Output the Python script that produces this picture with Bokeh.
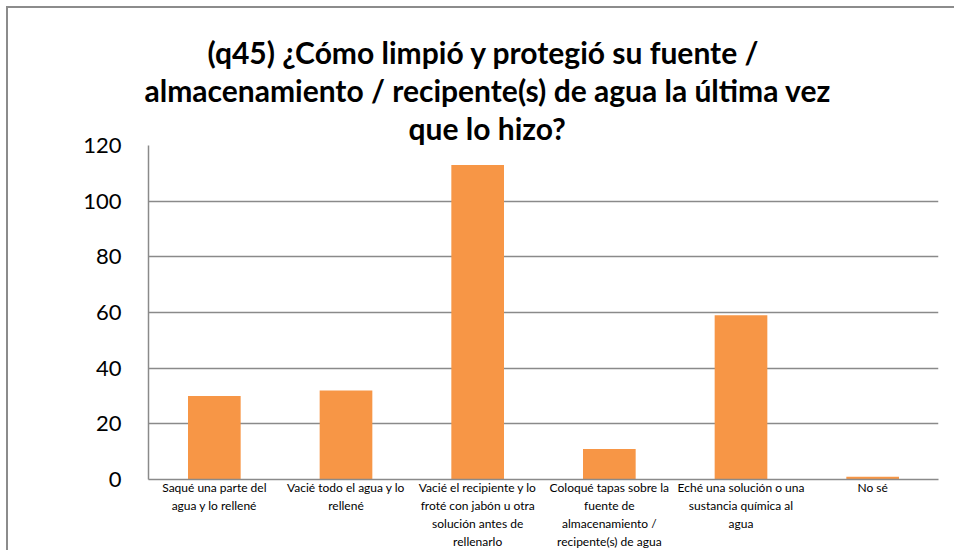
from bokeh.plotting import figure
from bokeh.models import FactorRange, Range1d, Title, FixedTicker
from bokeh.embed import file_html
from bokeh.resources import INLINE

categories = [
    "Saqué una parte del\nagua y lo rellené",
    "Vacié todo el agua y lo\nrellené",
    "Vacié el recipiente y lo\nfroté con jabón u otra\nsolución antes de\nrellenarlo",
    "Coloqué tapas sobre la\nfuente de\nalmacenamiento /\nrecipente(s) de agua",
    "Eché una solución o una\nsustancia química al\nagua",
    "No sé",
]
counts = [30, 32, 113, 11, 59, 1]
y_ticks = [0, 20, 40, 60, 80, 100, 120]
title_lines = [
    "(q45) ¿Cómo limpió y protegió su fuente /",
    "almacenamiento / recipente(s) de agua la última vez",
    "que lo hizo?",
]
# left offsets (px from the plot frame's left edge) that centre each title line
title_offsets = [59, -4, 260]

FONT = "Lato"
GRID = "#8a8a8a"

p = figure(
    x_range=FactorRange(*categories, range_padding=0),
    y_range=Range1d(0, 120),
    width=948, height=544,
    min_border_left=140, min_border_right=18,
    min_border_top=137, min_border_bottom=73,
    output_backend="svg", toolbar_location=None,
)
p.styles = {
    "margin-left": "6px", "margin-top": "6px",
    "border-left": "2px solid #8c8c8c", "border-top": "2px solid #8c8c8c",
}
p.outline_line_color = None
p.background_fill_color = "white"
p.border_fill_color = "white"

p.vbar(x=categories, top=counts, width=0.4, fill_color="#F79646", line_color=None)

p.xgrid.grid_line_color = None
p.ygrid.grid_line_color = GRID
p.ygrid.grid_line_width = 1.5
p.ygrid.ticker = FixedTicker(ticks=y_ticks)

p.yaxis.ticker = FixedTicker(ticks=y_ticks)
p.yaxis.axis_line_color = GRID
p.yaxis.axis_line_width = 1.5
p.yaxis.major_tick_line_color = None
p.yaxis.minor_tick_line_color = None
p.yaxis.major_label_text_font = FONT
p.yaxis.major_label_text_font_size = "22px"
p.yaxis.major_label_text_color = "black"
p.yaxis.major_label_standoff = 21

p.xaxis.axis_line_color = GRID
p.xaxis.axis_line_width = 1.5
p.xaxis.major_tick_line_color = None
p.xaxis.minor_tick_line_color = None
p.xaxis.major_label_text_font = FONT
p.xaxis.major_label_text_font_size = "12px"
p.xaxis.major_label_text_color = "black"
p.xaxis.major_label_text_line_height = 1.2
p.xaxis.major_label_standoff = -6

# titles stacked upwards from the frame: add the last line first
for line, off in reversed(list(zip(title_lines, title_offsets))):
    p.add_layout(Title(
        text=line, align="left", offset=off, standoff=0,
        text_font=FONT, text_font_size="30px", text_font_style="bold",
        text_color="black",
    ), "above")

open("out.html", "w").write(file_html(p, INLINE))
